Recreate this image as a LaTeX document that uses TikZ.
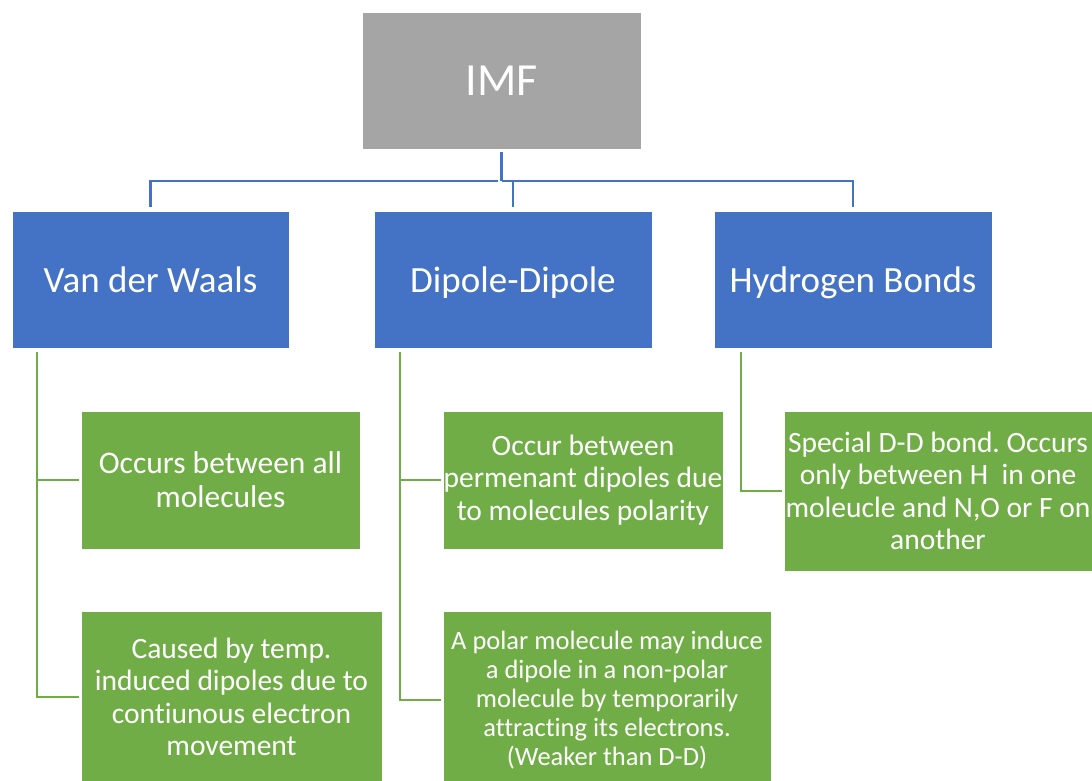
\documentclass[tikz,border=0pt]{standalone}
\usepackage{fontspec}
\setmainfont{Carlito}[Ligatures=NoCommon]
\usetikzlibrary{calc}
\definecolor{imfgray}{HTML}{A5A5A5}
\definecolor{mblue}{HTML}{4472C4}
\definecolor{mgreen}{HTML}{70AD47}
\frenchspacing
\begin{document}
\begin{tikzpicture}[x=1pt,y=-1pt,
  box/.style={rectangle,draw=white,line width=0.6pt,text=white,align=center,inner sep=0pt,anchor=center},
  topbox/.style={box,fill=imfgray,minimum width=279pt,minimum height=137pt,font=\fontsize{46}{50}\selectfont},
  catbox/.style={box,fill=mblue,minimum width=278pt,minimum height=137pt,font=\fontsize{37}{42}\selectfont,text height=25pt,text depth=0pt},
  leafbox/.style={box,fill=mgreen,font=\fontsize{29.5}{32.5}\selectfont},
  bline/.style={draw=mblue,line width=2.4pt},
  gline/.style={draw=mgreen,line width=2.4pt}
]
\clip (0,0) rectangle (1092,781);
\fill[white] (0,0) rectangle (1092,781);
\node[topbox] (imf) at (501.5,80.5) {IMF};
\node[catbox,minimum width=277pt] (vdw) at (150.5,279.5) {Van der Waals};
\node[catbox] (dd) at (513,279.5) {Dipole-Dipole};
\node[catbox] (hb) at (853,279.5) {Hydrogen Bonds};
\node[leafbox,minimum width=279pt,minimum height=138pt,font=\fontsize{31.5}{34}\selectfont] (g1) at (220.5,480) {Occurs between all\\molecules};
\node[leafbox,minimum width=301pt,minimum height=172pt] (g2) at (231.5,697) {Caused by temp.\\induced dipoles due to\\contiunous electron\\movement};
\node[leafbox,minimum width=280pt,minimum height=138pt] (g3) at (583,480) {Occur between\\permenant dipoles due\\to molecules polarity};
\node[leafbox,minimum width=328pt,minimum height=178pt,font=\fontsize{26.5}{29}\selectfont] (g4) at (607,700) {A polar molecule may induce\\a dipole in a non-polar\\molecule by temporarily\\attracting its electrons.\\(Weaker than D-D)};
\node[leafbox,minimum width=308pt,minimum height=160pt] (g5) at (938,491) {Special D-D bond. Occurs\\only between H\ \ in one\\moleucle and N,O or F on\\another};
% blue connectors
\coordinate (bus) at (501.5,181);
\draw[bline,shorten <=3pt] (imf.south) -- (bus);
\draw[bline,shorten <=4pt,shorten >=4pt] (bus) -| (vdw.north);
\draw[bline,shorten >=4pt] (bus) -| (hb.north);
\draw[bline,shorten >=4pt] (bus -| dd.north) -- (dd.north);
% green connectors
\coordinate (v1) at ($(vdw.south west)+(25,0)$);
\coordinate (v2) at ($(dd.south west)+(26,0)$);
\coordinate (v3) at ($(hb.south west)+(27,0)$);
\draw[gline,shorten <=4pt,shorten >=2pt] (v1) |- (g2.west);
\draw[gline,shorten >=2pt] (v1 |- g1.west) -- (g1.west);
\draw[gline,shorten <=4pt,shorten >=2pt] (v2) |- (g4.west);
\draw[gline,shorten >=2pt] (v2 |- g3.west) -- (g3.west);
\draw[gline,shorten <=4pt,shorten >=2pt] (v3) |- (g5.west);
\end{tikzpicture}
\end{document}
